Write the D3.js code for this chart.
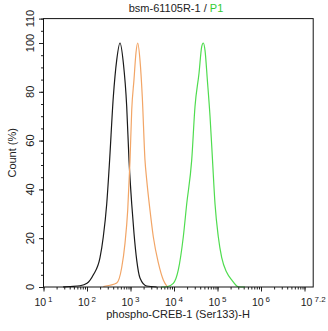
<!DOCTYPE html>
<meta charset="utf-8">
<style>
  body { margin: 0; background: #fff; }
  text { font-family: "Liberation Sans", Arial, sans-serif; fill: #222; }
</style>
<svg width="328" height="331"></svg>
<script src="https://cdn.jsdelivr.net/npm/d3@7"></script>
<script>

var svg = d3.select("svg"),
    plotLeft = 43.5, plotRight = 313.2, plotTop = 18.6, plotBottom = 287;

// histogram curves, [fluorescence, count %]
var blackCurve = [[28,0],[41,0.2],[69,0.5],[100,1.5],[140,5],[199,12],[237,20.6],[284,34],
  [326,50],[403,78],[482,93],[574,100],[683,92],[818,74],[924,52],[1067,34],[1203,22],
  [1389,11],[1652,3.7],[2355,0.4],[4000,0]];
var orangeCurve = [[237,0.2],[338,0.7],[482,1.6],[628,8],[748,18],[863,31.5],[975,52],
  [1067,72.5],[1203,85],[1337,96],[1464,100],[1652,93],[1866,78],[2153,52],[2355,44],
  [2805,31.5],[3342,20.6],[4355,10],[5680,2.9],[7015,0.1]];
var greenCurve = [[5100,0],[6790,0.1],[9640,1.5],[12560,7],[16370,20.6],[19590,34],
  [25520,52],[30400,74],[37580,87.6],[43350,98.5],[47200,100],[51640,97],[58340,85],
  [67300,70],[76800,52],[87700,34],[104300,20.6],[125000,12],[162600,6],[211800,2.9],
  [300600,0.1],[428500,0]];

var series = [
  { name: "black", values: blackCurve, color: "#1a1a1a" },
  { name: "orange", values: orangeCurve, color: "#f2a566" },
  { name: "green", values: greenCurve, color: "#4fdc4f" }
];

var xLabelExps = [1, 2, 3, 4, 5, 6, 7.2];
var yMajor = [0, 20, 40, 60, 80, 100, 110];

var x = d3.scaleLog().domain([10, Math.pow(10, 7.2)]).range([plotLeft, plotRight]);
var y = d3.scaleLinear().domain([0, 110]).range([plotBottom, plotTop]);

// minor + major x ticks
var xMinor = [];
for (var e = 1; e < 8; e++) {
  for (var m = 1; m < 10; m++) {
    var v = m * Math.pow(10, e);
    if (v <= Math.pow(10, 7.2)) xMinor.push(v);
  }
}
var xMajor = d3.range(1, 8).map(function(e) { return Math.pow(10, e); });

svg.append("g")
  .attr("transform", "translate(0," + plotBottom + ")")
  .call(d3.axisBottom(x).tickValues(xMinor).tickSize(2.5).tickFormat(""))
  .call(function(g) { g.select(".domain").remove(); });
svg.append("g")
  .attr("transform", "translate(0," + plotBottom + ")")
  .call(d3.axisBottom(x).tickValues(xMajor).tickSize(4.5).tickFormat(""))
  .call(function(g) { g.select(".domain").remove(); });

var yMinor = d3.range(0, 111, 5);
svg.append("g")
  .attr("transform", "translate(" + plotLeft + ",0)")
  .call(d3.axisLeft(y).tickValues(yMinor).tickSize(2.5).tickFormat(""))
  .call(function(g) { g.select(".domain").remove(); });
svg.append("g")
  .attr("transform", "translate(" + plotLeft + ",0)")
  .call(d3.axisLeft(y).tickValues(yMajor).tickSize(4.5).tickFormat(""))
  .call(function(g) { g.select(".domain").remove(); });

svg.selectAll(".tick line").attr("stroke", "#222");

// x tick labels
var xl = svg.append("g").selectAll("text")
  .data(xLabelExps)
  .enter().append("text")
  .attr("x", function(d) { return x(Math.pow(10, d)); })
  .attr("y", 306)
  .attr("text-anchor", "middle")
  .style("font-size", "10.5px");
xl.append("tspan").text("10");
xl.append("tspan")
  .attr("dx", 2)
  .attr("dy", -4)
  .style("font-size", "8px")
  .text(function(d) { return d; });

// y tick labels
svg.append("g").selectAll("text")
  .data(yMajor)
  .enter().append("text")
  .attr("transform", function(d) { return "translate(34," + y(d) + ") rotate(-90)"; })
  .attr("text-anchor", "middle")
  .style("font-size", "11px")
  .text(function(d) { return d; });

// curves
var line = d3.line()
  .x(function(d) { return x(d[0]); })
  .y(function(d) { return y(d[1]); })
  .curve(d3.curveMonotoneX);

svg.append("g").selectAll("path")
  .data(series)
  .enter().append("path")
  .attr("d", function(d) { return line(d.values); })
  .attr("fill", "none")
  .attr("stroke", function(d) { return d.color; })
  .attr("stroke-width", 1.2);

// frame
svg.append("rect")
  .attr("x", plotLeft).attr("y", plotTop)
  .attr("width", plotRight - plotLeft).attr("height", plotBottom - plotTop)
  .attr("fill", "none").attr("stroke", "#111").attr("stroke-width", 1);

// title
var title = svg.append("text")
  .attr("x", 176).attr("y", 12)
  .attr("text-anchor", "middle")
  .style("font-size", "11px");
title.append("tspan").text("bsm-61105R-1 / ");
title.append("tspan").style("fill", "#33cc33").text("P1");

svg.append("text")
  .attr("x", 178).attr("y", 318)
  .attr("text-anchor", "middle")
  .style("font-size", "11px")
  .text("phospho-CREB-1 (Ser133)-H");

svg.append("text")
  .attr("transform", "translate(15.5," + ((plotTop + plotBottom) / 2) + ") rotate(-90)")
  .attr("text-anchor", "middle")
  .style("font-size", "11px")
  .text("Count (%)");

</script>
